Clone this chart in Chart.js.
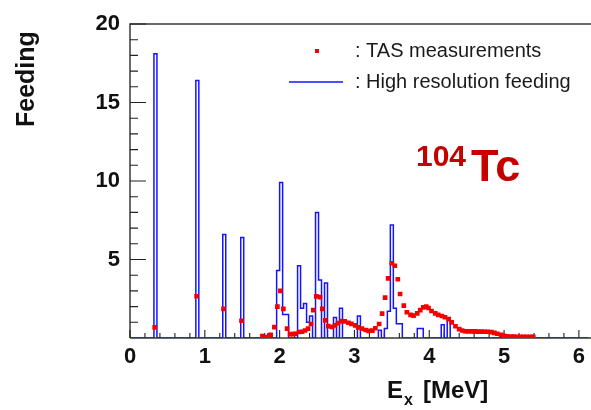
<!DOCTYPE html>
<html><head><meta charset="utf-8">
<script src="https://cdn.jsdelivr.net/npm/chart.js@4.4.1/dist/chart.umd.min.js"></script>
<style>html,body{margin:0;padding:0;background:#fff;}canvas{display:block;}</style>
</head><body>
<canvas id="c" width="591" height="410"></canvas>
<script>
// ---- data ----
const xTickLabels = ['0', '1', '2', '3', '4', '5', '6'];
const yTickLabels = ['', '5', '10', '15', '20'];
const hrBinWidth = 0.04; // MeV
const hrBinStart = [0.32, 0.88, 1.24, 1.48, 1.84, 1.96, 2.00, 2.04, 2.08, 2.24, 2.28, 2.32, 2.36, 2.40,
  2.48, 2.52, 2.60, 2.72, 2.80, 3.04, 3.32, 3.40, 3.44, 3.48, 3.52, 3.56, 3.60, 3.84, 3.88, 4.16, 4.24];
const hrFeeding = [18.1, 16.4, 6.6, 6.4, 0.25, 4.3, 9.9, 1.5, 1.5, 4.6, 1.9, 2.2, 1.0, 1.4,
  8.0, 3.7, 3.5, 1.3, 1.9, 1.4, 0.5, 0.6, 1.7, 7.2, 1.9, 0.9, 0.9, 0.6, 0.6, 0.85, 1.15];
const tasEnergy = [0.33, 0.89, 1.25, 1.49, 1.77, 1.82, 1.88, 1.93, 1.97, 2.01, 2.05, 2.10, 2.14, 2.18, 2.21,
  2.26, 2.30, 2.34, 2.38, 2.42, 2.45, 2.49, 2.54, 2.57, 2.61, 2.65, 2.70, 2.74, 2.78, 2.83, 2.87, 2.92,
  2.96, 3.01, 3.05, 3.10, 3.15, 3.19, 3.24, 3.28, 3.33, 3.37, 3.41, 3.45, 3.50, 3.54, 3.58, 3.61, 3.66,
  3.70, 3.75, 3.79, 3.84, 3.88, 3.92, 3.96, 3.99, 4.03, 4.08, 4.12, 4.17, 4.21, 4.26, 4.30, 4.35, 4.40,
  4.44, 4.48, 4.52, 4.57, 4.61, 4.65, 4.70, 4.74, 4.78, 4.83, 4.87, 4.91, 4.96, 5.00, 5.04, 5.09, 5.13,
  5.17, 5.22, 5.26, 5.30, 5.35, 5.39];
const tasFeeding = [0.68, 2.66, 1.85, 1.10, 0.13, 0.06, 0.20, 0.69, 2.0, 3.0, 1.85, 0.60, 0.25, 0.25, 0.27,
  0.38, 0.40, 0.48, 0.60, 0.89, 1.78, 2.65, 2.60, 1.86, 1.12, 0.76, 0.70, 0.80, 0.95, 1.07, 1.06, 0.97,
  0.90, 0.80, 0.68, 0.60, 0.51, 0.45, 0.47, 0.62, 0.89, 1.55, 2.57, 3.80, 4.76, 4.60, 3.74, 2.80, 2.06,
  1.64, 1.47, 1.42, 1.57, 1.78, 1.95, 2.00, 1.91, 1.72, 1.57, 1.47, 1.40, 1.32, 1.20, 1.00, 0.75, 0.56,
  0.48, 0.43, 0.42, 0.42, 0.42, 0.41, 0.41, 0.40, 0.40, 0.37, 0.33, 0.27, 0.20, 0.14, 0.10, 0.09, 0.09,
  0.08, 0.08, 0.08, 0.08, 0.07, 0.07];
const seriesNames = [': TAS measurements', ': High resolution feeding'];
const isotopeMass = '104';
const isotopeSymbol = 'Tc';

// ---- build histogram step line from bins ----
const X_MAX = 6.13;
const nBins = Math.ceil(6.2 / hrBinWidth);
const binVals = new Array(nBins).fill(0);
hrBinStart.forEach((e, i) => { binVals[Math.round(e / hrBinWidth)] = hrFeeding[i]; });
const hrPoints = binVals.map((v, k) => ({x: k * hrBinWidth, y: v}));
hrPoints.push({x: nBins * hrBinWidth, y: 0});
const tasPoints = tasEnergy.map((e, i) => ({x: e, y: tasFeeding[i]}));

const FONT = "'Liberation Sans', Arial, Helvetica, sans-serif";
const RED = '#f50000';
const BLUE = 'rgb(20,20,255)';

const decor = {
  id: 'decor',
  beforeDatasetsDraw(chart) {
    const {ctx, chartArea: a, scales: {x, y}} = chart;
    ctx.save();
    ctx.strokeStyle = '#3a3a3a';
    ctx.lineWidth = 1.5;
    ctx.beginPath();
    ctx.moveTo(a.left, a.bottom); ctx.lineTo(a.left, a.top); ctx.lineTo(chart.width, a.top);
    ctx.moveTo(a.left, a.bottom); ctx.lineTo(chart.width, a.bottom);
    ctx.stroke();
    ctx.strokeStyle = '#222';
    ctx.lineWidth = 1.1;
    ctx.beginPath();
    for (let i = 0; i <= 31; i++) {
      const px = x.getPixelForValue(i * 0.2);
      if (px > chart.width) break;
      const len = i % 5 === 0 ? 8 : 5;
      ctx.moveTo(px, a.bottom); ctx.lineTo(px, a.bottom - len);
    }
    for (let j = 1; j <= 20; j++) {
      const py = y.getPixelForValue(j);
      const len = j % 5 === 0 ? 16 : 8;
      ctx.moveTo(a.left, py); ctx.lineTo(a.left + len, py);
    }
    ctx.stroke();
    ctx.restore();
  },
  afterDraw(chart) {
    const ctx = chart.ctx;
    ctx.save();
    ctx.fillStyle = '#111';
    ctx.textBaseline = 'alphabetic';
    // y title
    ctx.save();
    ctx.translate(34, 127);
    ctx.rotate(-Math.PI / 2);
    ctx.font = `bold 25px ${FONT}`;
    ctx.textAlign = 'left';
    ctx.fillText('Feeding', 0, 0);
    ctx.restore();
    // x title
    ctx.textAlign = 'left';
    ctx.font = `bold 24px ${FONT}`;
    ctx.fillText('E', 387, 398);
    ctx.font = `bold 16px ${FONT}`;
    ctx.fillText('x', 404, 405);
    ctx.font = `bold 24px ${FONT}`;
    ctx.fillText('[MeV]', 423, 398);
    // legend
    ctx.fillStyle = RED;
    ctx.fillRect(315, 49, 4, 4);
    ctx.strokeStyle = BLUE;
    ctx.lineWidth = 1.4;
    ctx.beginPath(); ctx.moveTo(289, 82); ctx.lineTo(343, 82); ctx.stroke();
    ctx.fillStyle = '#1a1a1a';
    ctx.font = `20px ${FONT}`;
    ctx.fillText(chart.data.datasets[0].label, 355, 57);
    ctx.fillText(chart.data.datasets[1].label, 355, 88);
    // isotope label
    ctx.fillStyle = '#c40000';
    ctx.font = `bold 30px ${FONT}`;
    ctx.fillText(isotopeMass, 416, 166);
    ctx.font = `bold 45px ${FONT}`;
    ctx.fillText(isotopeSymbol, 471, 181);
    ctx.restore();
  }
};

new Chart(document.getElementById('c'), {
  type: 'scatter',
  data: {
    datasets: [
      {label: seriesNames[0], data: tasPoints, pointStyle: 'rect', pointRadius: 3.3,
       pointBackgroundColor: RED, pointBorderWidth: 0, showLine: false},
      {label: seriesNames[1], data: hrPoints, showLine: true, stepped: true, pointRadius: 0,
       borderColor: BLUE, borderWidth: 1.5, fill: false}
    ]
  },
  options: {
    responsive: false, animation: false, devicePixelRatio: 1,
    layout: {padding: {top: 24, left: 0, right: 0, bottom: 0}, autoPadding: false},
    plugins: {legend: {display: false}, tooltip: {enabled: false}},
    scales: {
      x: {type: 'linear', min: 0, max: X_MAX,
          grid: {display: false, drawTicks: false}, border: {display: false},
          ticks: {stepSize: 1, includeBounds: false, padding: 6, maxRotation: 0, color: '#111',
                  font: {family: FONT, size: 22, weight: 'bold'},
                  callback: v => Number.isInteger(v) ? xTickLabels[v] : ''},
          afterFit: s => { s.height = 72; }},
      y: {type: 'linear', min: 0, max: 20,
          grid: {display: false, drawTicks: false}, border: {display: false},
          ticks: {stepSize: 5, padding: 10, color: '#111',
                  font: {family: FONT, size: 22, weight: 'bold'},
                  callback: v => yTickLabels[v / 5]},
          afterFit: s => { s.width = 130; }}
    }
  },
  plugins: [decor]
});
</script>
</body></html>
